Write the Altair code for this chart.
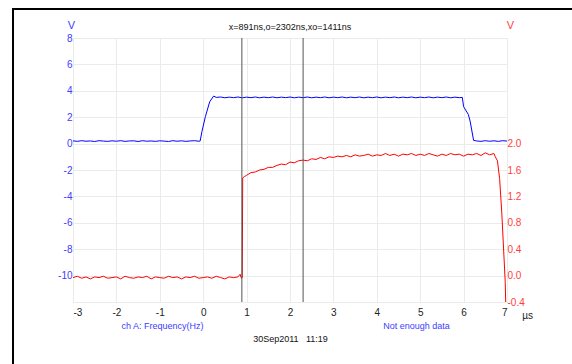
import altair as alt
import pandas as pd

# ---------------- data ----------------
x_ticks = [-3, -2, -1, 0, 1, 2, 3, 4, 5, 6, 7]
left_ticks = [-12, -10, -8, -6, -4, -2, 0, 2, 4, 6, 8]
right_ticks = [-0.4, 0.0, 0.4, 0.8, 1.2, 1.6, 2.0]
cursor_t = [0.891, 2.302]

blue_t = [
    -3.0, -2.9, -2.8, -2.7, -2.6, -2.5, -2.4, -2.3, -2.2, -2.1,
    -2.0, -1.9, -1.8, -1.7, -1.6, -1.5, -1.4, -1.3, -1.2, -1.1,
    -1.0, -0.9, -0.8, -0.7, -0.6, -0.5, -0.4, -0.3, -0.2, -0.1,
    -0.07, -0.03, 0.05, 0.15, 0.24, 0.3,
    0.4, 0.5, 0.6, 0.7, 0.8, 0.9, 1.0, 1.1, 1.2, 1.3,
    1.4, 1.5, 1.6, 1.7, 1.8, 1.9, 2.0, 2.1, 2.2, 2.3,
    2.4, 2.5, 2.6, 2.7, 2.8, 2.9, 3.0, 3.1, 3.2, 3.3,
    3.4, 3.5, 3.6, 3.7, 3.8, 3.9, 4.0, 4.1, 4.2, 4.3,
    4.4, 4.5, 4.6, 4.7, 4.8, 4.9, 5.0, 5.1, 5.2, 5.3,
    5.4, 5.5, 5.6, 5.7, 5.8, 5.9,
    5.97, 6.0, 6.11, 6.15, 6.23,
    6.3, 6.4, 6.5, 6.6, 6.7, 6.8, 6.9, 7.0,
]
blue_v = [
    0.21, 0.17, 0.22, 0.18, 0.20, 0.16, 0.22, 0.19, 0.17, 0.21,
    0.18, 0.22, 0.17, 0.20, 0.21, 0.16, 0.22, 0.18, 0.20, 0.17,
    0.21, 0.19, 0.16, 0.22, 0.18, 0.21, 0.17, 0.20, 0.22, 0.18,
    0.20, 0.90, 2.04, 3.17, 3.60, 3.50,
    3.53, 3.47, 3.52, 3.48, 3.53, 3.47, 3.52, 3.48, 3.53, 3.47,
    3.52, 3.48, 3.53, 3.47, 3.52, 3.48, 3.53, 3.47, 3.52, 3.48,
    3.53, 3.47, 3.52, 3.48, 3.53, 3.47, 3.52, 3.48, 3.53, 3.47,
    3.52, 3.48, 3.53, 3.47, 3.52, 3.48, 3.53, 3.47, 3.52, 3.48,
    3.53, 3.47, 3.52, 3.48, 3.53, 3.47, 3.52, 3.48, 3.53, 3.47,
    3.52, 3.48, 3.53, 3.47, 3.52, 3.48,
    3.50, 2.80, 2.20, 1.70, 0.25,
    0.20, 0.17, 0.22, 0.18, 0.21, 0.17, 0.22, 0.19,
]

red_t = [
    -3.0, -2.9, -2.8, -2.7, -2.6, -2.5, -2.4, -2.3, -2.2, -2.1,
    -2.0, -1.9, -1.8, -1.7, -1.6, -1.5, -1.4, -1.3, -1.2, -1.1,
    -1.0, -0.9, -0.8, -0.7, -0.6, -0.5, -0.4, -0.3, -0.2, -0.1,
    0.0, 0.1, 0.2, 0.3, 0.4, 0.5, 0.6, 0.7, 0.8,
    0.85, 0.88, 0.9, 0.91, 0.95,
    1.0, 1.1, 1.2, 1.3, 1.4, 1.5, 1.6, 1.7, 1.8, 1.9,
    2.0, 2.1, 2.2, 2.3, 2.4, 2.5, 2.6, 2.7, 2.8, 2.9,
    3.0, 3.1, 3.2, 3.3, 3.4, 3.5, 3.6, 3.7, 3.8, 3.9,
    4.0, 4.1, 4.2, 4.3, 4.4, 4.5, 4.6, 4.7, 4.8, 4.9,
    5.0, 5.1, 5.2, 5.3, 5.4, 5.5, 5.6, 5.7, 5.8, 5.9,
    6.0, 6.1, 6.2, 6.3, 6.4, 6.5, 6.6, 6.7,
    6.73, 6.78, 6.83, 6.88, 6.96, 6.97,
]
red_v = [
    -0.03, -0.01, -0.04, -0.02, -0.05, -0.02, -0.03, -0.01, -0.04, -0.03,
    -0.02, -0.05, -0.01, -0.03, -0.04, -0.02, -0.03, -0.01, -0.05, -0.02,
    -0.03, -0.04, -0.01, -0.03, -0.02, -0.05, -0.02, -0.03, -0.01, -0.04,
    -0.03, -0.02, -0.04, -0.01, -0.03, -0.05, -0.02, -0.03, -0.02,
    0.02, -0.04, -0.03, 1.48, 1.50,
    1.52, 1.56, 1.57, 1.60, 1.61, 1.64, 1.64, 1.67, 1.69, 1.68,
    1.72, 1.71, 1.74, 1.75, 1.74, 1.77, 1.76, 1.79, 1.77, 1.80,
    1.79, 1.81, 1.80, 1.82, 1.80, 1.83, 1.81, 1.82, 1.84, 1.81,
    1.83, 1.82, 1.85, 1.82, 1.84, 1.81, 1.84, 1.83, 1.85, 1.82,
    1.84, 1.82, 1.85, 1.83, 1.81, 1.84, 1.82, 1.85, 1.83, 1.84,
    1.81, 1.84, 1.83, 1.85, 1.82, 1.86, 1.83, 1.85,
    1.80, 1.74, 1.47, 0.95, -0.11, -0.40,
]

title_text = "x=891ns,o=2302ns,xo=1411ns"
left_note = "ch A: Frequency(Hz)"
right_note = "Not enough data"
date_note = "30Sep2011\u00a0\u00a0 11:19"

BLUE = "#0000ff"
RED = "#ff0000"
BLUE_TXT = "#3d3dff"
RED_TXT = "#ff3d3d"
GRID = "#ebebeb"
FONT = "Liberation Sans"

blue = pd.DataFrame({"t": blue_t, "v": blue_v})
red = pd.DataFrame({"t": red_t, "v": red_v})
cursors = pd.DataFrame({"t": cursor_t})

W, H = 434, 264
xscale = alt.Scale(domain=[-3, 7], nice=False, zero=False)

xaxis = alt.Axis(
    values=x_ticks, grid=True, gridColor=GRID, domain=False, ticks=False,
    labelPadding=5, labelExpr="'' + datum.value", labelColor="#222",
    labelFontSize=10, labelFont=FONT,
    title="µs", titleX=454, titleY=13, titleAlign="center",
    titleBaseline="middle", titleFontWeight="normal", titleFontSize=10,
    titleColor="#222", titleFont=FONT,
)

blue_line = alt.Chart(blue).mark_line(color=BLUE, strokeWidth=1).encode(
    x=alt.X("t:Q", scale=xscale, axis=xaxis),
    y=alt.Y(
        "v:Q",
        scale=alt.Scale(domain=[-12, 8], nice=False, zero=False),
        axis=alt.Axis(
            values=left_ticks, orient="left", grid=True, gridColor=GRID,
            domain=False, ticks=False, labelPadding=1,
            labelColor=BLUE_TXT, labelFontSize=10, labelFont=FONT,
            labelExpr="datum.value == -12 ? '' : '' + datum.value",
            title="V", titleAngle=0, titleX=-2, titleY=-13,
            titleAlign="center", titleBaseline="middle",
            titleColor=BLUE_TXT, titleFontWeight="normal",
            titleFontSize=11, titleFont=FONT,
        ),
    ),
)

red_line = alt.Chart(red).mark_line(color=RED, strokeWidth=1).encode(
    x=alt.X("t:Q", scale=xscale),
    y=alt.Y(
        "v:Q",
        scale=alt.Scale(domain=[-0.4, 3.6], nice=False, zero=False),
        axis=alt.Axis(
            values=right_ticks, orient="right", grid=False,
            domain=False, ticks=False, labelPadding=0,
            labelColor=RED_TXT, labelFontSize=10, labelFont=FONT,
            labelExpr="replace(format(datum.value, '.1f'), '\u2212', '-')",
            title="V", titleAngle=0, titleX=3, titleY=-13,
            titleAlign="center", titleBaseline="middle",
            titleColor=RED_TXT, titleFontWeight="normal",
            titleFontSize=11, titleFont=FONT,
        ),
    ),
)

rules = alt.Chart(cursors).mark_rule(color="#555555", strokeWidth=1).encode(
    x=alt.X("t:Q", scale=xscale)
)

one = alt.Data(values=[{}])


def note(txt, x, y, color, size=9):
    return alt.Chart(one).mark_text(
        text=txt, font=FONT, fontSize=size, color=color,
        align="center", baseline="middle",
    ).encode(x=alt.value(x), y=alt.value(y))


title_mark = note(title_text, 217, -11, "#111111")
left_mark = note(left_note, 89.5, 288, BLUE_TXT)
right_mark = note(right_note, 343.5, 288, BLUE_TXT)
date_mark = note(date_note, 217.5, 301, "#111111")

border = alt.Chart(one).mark_rect(
    fillOpacity=0, stroke="black", strokeWidth=2
).encode(
    x=alt.value(-60), x2=alt.value(700), y=alt.value(-29), y2=alt.value(500)
)

chart = alt.layer(
    blue_line, red_line, rules, title_mark, left_mark, right_mark, date_mark, border
).resolve_scale(y="independent").properties(
    width=W, height=H,
    autosize=alt.AutoSizeParams(type="none"),
    padding={"left": 73, "top": 38, "right": 65, "bottom": 62},
).configure_view(strokeWidth=0).configure(font=FONT, background="white")

chart.save("out.html", embed_options={"renderer": "svg", "actions": False})
